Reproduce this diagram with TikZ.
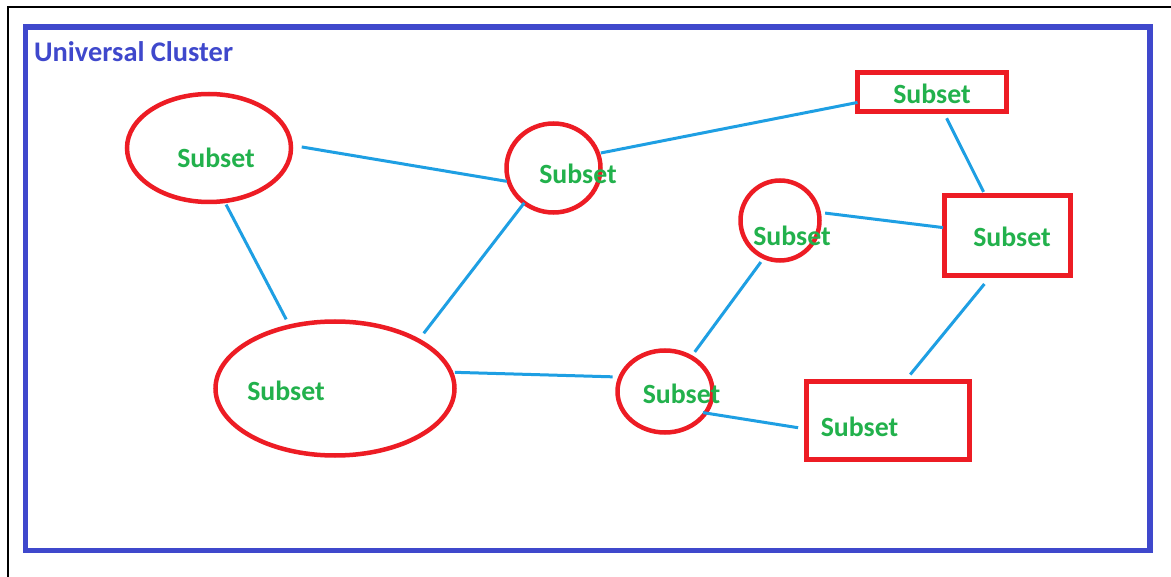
\documentclass[tikz,border=0pt]{standalone}
\usepackage{fontspec}
\setmainfont{Carlito}
\usetikzlibrary{shapes.geometric}
\definecolor{pred}{HTML}{ED1C24}
\definecolor{pgreen}{HTML}{22B14C}
\definecolor{pblue}{HTML}{1E9FE3}
\definecolor{pindigo}{HTML}{3F48CC}
\tikzset{
  ell/.style={ellipse, draw=pred, line width=4.5pt, inner sep=0pt, outer sep=0pt},
  box/.style={rectangle, draw=pred, line width=5pt, inner sep=0pt, outer sep=0pt},
  lbl/.style={text=pgreen, font=\fontsize{27.8}{28}\selectfont\bfseries, anchor=base, inner sep=0pt},
  link/.style={draw=pblue, line width=3pt},
}
\begin{document}
\begin{tikzpicture}[x=1pt, y=-1pt]
\useasboundingbox (0,0) rectangle (1171,577);
\fill[white] (0,0) rectangle (1171,577);
% outer frame (open at right and bottom)
\coordinate (fb) at (7.5,577);
\coordinate (fc) at (7.5,7.5);
\coordinate (fr) at (1171,7.5);
\draw[black, line width=2pt] (fb) -- (fc) -- (fr);
% universal cluster frame
\node[draw=pindigo, line width=5.5pt, minimum width=1124.5pt, minimum height=523.5pt, inner sep=0pt, outer sep=0pt] (U) at (587.75,288.75) {};
\node[text=pindigo, font=\fontsize{28.4}{28}\selectfont\bfseries, anchor=base west, inner sep=0pt] (title) at (34,62) {Universal Cluster};
% subsets
\node[ell, minimum width=164pt, minimum height=108pt] (A) at (209,148) {};
\node[ell, minimum width=94pt, minimum height=89pt] (B) at (553.5,168) {};
\node[box, minimum width=149pt, minimum height=39pt] (C) at (932,92) {};
\node[ell, minimum width=79pt, minimum height=80pt] (D) at (780,220.5) {};
\node[box, minimum width=126pt, minimum height=80pt] (E) at (1007.5,235.5) {};
\node[ell, minimum width=239pt, minimum height=134pt] (F) at (335,388.5) {};
\node[ell, minimum width=95pt, minimum height=82pt] (G) at (665,391.5) {};
\node[box, minimum width=163pt, minimum height=78pt] (H) at (888,420.5) {};
% connectors
\draw[link, shorten <=11pt, shorten >=2pt] (A.2) -- (B.197);
\draw[link, shorten <=4pt, shorten >=8pt] (A.286) -- (F.126);
\draw[link, shorten <=0pt, shorten >=9pt] (B.230) -- (F.30);
\draw[link, shorten <=3pt, shorten >=0pt] (B.18) -- (C.188);
\draw[link, shorten <=7.5pt, shorten >=4pt] (C.300) -- (E.119);
\draw[link, shorten <=6.5pt, shorten >=1.5pt] (D.12) -- (E.173);
\draw[link, shorten <=6pt, shorten >=6.5pt] (D.247) -- (G.53);
\draw[link, shorten <=4pt, shorten >=8pt] (F.8) -- (G.162);
\draw[link, shorten <=-2.5pt, shorten >=8.5pt] (G.332) -- (H.186);
\draw[link, shorten <=11pt, shorten >=9pt] (E.248) -- (H.67);
% labels
\node[lbl] (tA) at (216,167.5) {Subset};
\node[lbl] (tB) at (578,184) {Subset};
\node[lbl] (tC) at (932,104) {Subset};
\node[lbl] (tD) at (792,246) {Subset};
\node[lbl] (tE) at (1012,247) {Subset};
\node[lbl] (tF) at (286,401) {Subset};
\node[lbl] (tG) at (681.5,404) {Subset};
\node[lbl] (tH) at (859.5,436) {Subset};
\end{tikzpicture}
\end{document}
